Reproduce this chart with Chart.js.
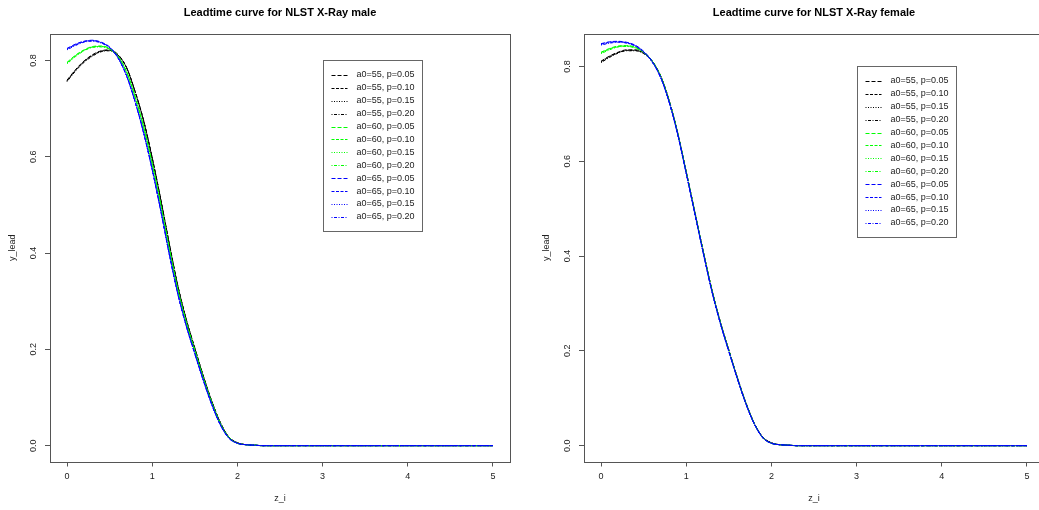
<!DOCTYPE html>
<html>
<head>
<meta charset="utf-8">
<script src="https://cdn.jsdelivr.net/npm/chart.js@4.4.1/dist/chart.umd.min.js"></script>
<style>
  html, body { margin: 0; padding: 0; background: #ffffff; overflow: hidden; }
  #wrap { position: relative; width: 1039px; height: 510px; overflow: hidden; }
  canvas { position: absolute; top: 0; }
  #male { left: 0; }
  #female { left: 534px; }
</style>
</head>
<body>
<div id="wrap">
  <canvas id="male" width="534" height="510"></canvas>
  <canvas id="female" width="534" height="510"></canvas>
</div>
<script>
// Lead time z_i grid shared by all curves
const zGrid = [0, 0.1, 0.2, 0.3, 0.4, 0.5, 0.6, 0.7, 0.8, 0.9, 1.0, 1.1, 1.2, 1.3, 1.4, 1.5, 1.6, 1.7, 1.8, 1.9, 2.0, 2.1, 2.2, 2.3, 5.0];

// Male curves, one array per (a0, p)
const male_a55_p05 = [.759,.781,.799,.812,.820,.822,.812,.785,.735,.675,.598,.512,.420,.333,.262,.203,.145,.092,.048,.018,.006,.002,.001,0,0];
const male_a55_p10 = [.758,.780,.798,.811,.819,.821,.811,.785,.735,.674,.597,.511,.419,.332,.262,.202,.144,.092,.048,.018,.006,.002,.001,0,0];
const male_a55_p15 = [.757,.779,.797,.810,.819,.821,.811,.784,.734,.674,.597,.511,.419,.332,.261,.202,.144,.091,.047,.018,.006,.002,.001,0,0];
const male_a55_p20 = [.756,.778,.796,.809,.818,.820,.810,.784,.734,.673,.596,.510,.418,.331,.261,.201,.143,.091,.047,.017,.006,.002,.001,0,0];
const male_a60_p05 = [.796,.811,.822,.829,.830,.825,.809,.776,.724,.662,.586,.501,.410,.325,.256,.198,.141,.089,.046,.017,.005,.002,.001,0,0];
const male_a60_p10 = [.795,.810,.821,.828,.829,.824,.808,.776,.724,.661,.585,.500,.409,.325,.256,.197,.140,.089,.046,.017,.005,.002,.001,0,0];
const male_a60_p15 = [.794,.809,.821,.828,.829,.824,.808,.775,.723,.661,.585,.500,.409,.324,.255,.197,.140,.088,.045,.017,.005,.002,.001,0,0];
const male_a60_p20 = [.793,.808,.820,.827,.828,.823,.807,.775,.723,.660,.584,.499,.408,.324,.255,.196,.139,.088,.045,.016,.005,.002,.001,0,0];
const male_a65_p05 = [.825,.834,.840,.842,.838,.828,.806,.768,.714,.650,.574,.489,.399,.316,.249,.192,.136,.086,.044,.016,.005,.002,.001,0,0];
const male_a65_p10 = [.824,.833,.839,.841,.837,.827,.805,.768,.714,.649,.573,.488,.398,.316,.249,.191,.136,.085,.043,.016,.005,.002,.001,0,0];
const male_a65_p15 = [.823,.832,.839,.841,.837,.827,.805,.767,.713,.649,.573,.488,.398,.315,.248,.191,.135,.085,.043,.016,.005,.002,.001,0,0];
const male_a65_p20 = [.822,.831,.838,.840,.836,.826,.804,.767,.713,.648,.572,.487,.397,.315,.248,.190,.135,.084,.043,.015,.005,.002,.001,0,0];

// Female curves, one array per (a0, p)
const female_a55_p05 = [.811,.822,.830,.835,.835,.829,.812,.780,.728,.660,.578,.494,.410,.330,.262,.202,.144,.091,.047,.018,.006,.002,.001,0,0];
const female_a55_p10 = [.810,.821,.829,.834,.834,.828,.811,.780,.728,.660,.578,.494,.410,.330,.261,.202,.144,.091,.047,.018,.006,.002,.001,0,0];
const female_a55_p15 = [.809,.820,.829,.834,.834,.828,.811,.779,.727,.659,.577,.493,.409,.329,.261,.201,.143,.090,.047,.017,.006,.002,.001,0,0];
const female_a55_p20 = [.808,.819,.828,.833,.833,.827,.810,.779,.727,.659,.577,.493,.409,.329,.260,.201,.143,.090,.046,.017,.006,.002,.001,0,0];
const female_a60_p05 = [.830,.838,.843,.844,.841,.831,.812,.779,.727,.659,.577,.493,.409,.329,.261,.201,.143,.090,.047,.017,.005,.002,.001,0,0];
const female_a60_p10 = [.829,.837,.842,.843,.840,.830,.811,.779,.727,.659,.577,.493,.409,.329,.260,.201,.143,.090,.046,.017,.005,.002,.001,0,0];
const female_a60_p15 = [.828,.836,.842,.843,.840,.830,.811,.778,.726,.658,.576,.492,.408,.328,.260,.200,.142,.090,.046,.017,.005,.002,.001,0,0];
const female_a60_p20 = [.827,.835,.841,.842,.839,.829,.810,.778,.726,.658,.576,.492,.408,.328,.259,.200,.142,.089,.046,.016,.005,.002,.001,0,0];
const female_a65_p05 = [.848,.852,.853,.851,.845,.832,.811,.777,.725,.657,.575,.491,.407,.327,.259,.200,.142,.089,.046,.017,.005,.002,.001,0,0];
const female_a65_p10 = [.847,.851,.852,.850,.844,.831,.810,.777,.725,.657,.575,.491,.407,.327,.259,.199,.142,.089,.046,.017,.005,.002,.001,0,0];
const female_a65_p15 = [.846,.850,.852,.850,.844,.831,.810,.776,.724,.656,.574,.490,.406,.326,.258,.199,.141,.088,.045,.016,.005,.002,.001,0,0];
const female_a65_p20 = [.845,.849,.851,.849,.843,.830,.809,.776,.724,.656,.574,.490,.406,.326,.258,.198,.141,.088,.045,.016,.005,.002,.001,0,0];

const seriesLabels = [
  'a0=55, p=0.05', 'a0=55, p=0.10', 'a0=55, p=0.15', 'a0=55, p=0.20',
  'a0=60, p=0.05', 'a0=60, p=0.10', 'a0=60, p=0.15', 'a0=60, p=0.20',
  'a0=65, p=0.05', 'a0=65, p=0.10', 'a0=65, p=0.15', 'a0=65, p=0.20'
];
const xTicks = [0, 1, 2, 3, 4, 5];
const xTickLabels = ['0', '1', '2', '3', '4', '5'];
const yTicks = [0, 0.2, 0.4, 0.6, 0.8];
const yTickLabels = ['0.0', '0.2', '0.4', '0.6', '0.8'];
const legendAnchor = [3, 0.8];   // top-left corner of the legend box, in data units

// Styles: colour by a0, line type by p
const a0Colors = ['#000000', '#00ff00', '#0000ff'];
const pDashes = [[4, 2], [3, 1.5], [1, 1.5], [1, 1.5, 3, 1.5]];

const FONT = "'Liberation Sans', Arial, sans-serif";
const TEXT = '#222222';
const FRAME = '#555555';

// R-style frame around the plotting region
const framePlugin = {
  id: 'frame',
  afterDraw(chart) {
    const a = chart.chartArea, ctx = chart.ctx;
    ctx.save();
    ctx.strokeStyle = FRAME;
    ctx.lineWidth = 1;
    ctx.setLineDash([]);
    const l = Math.round(a.left) + 0.5, t = Math.round(a.top) + 0.5;
    const r = Math.round(a.right) + 0.5, b = Math.round(a.bottom) + 0.5;
    ctx.strokeRect(l, t, r - l, b - t);
    ctx.restore();
  }
};

// Legend box placed at a data coordinate inside the plot
const boxLegendPlugin = {
  id: 'boxLegend',
  afterDraw(chart) {
    const ctx = chart.ctx;
    const xs = chart.scales.x, ys = chart.scales.y;
    const px = Math.round(xs.getPixelForValue(legendAnchor[0])) + 0.5;
    const py = Math.round(ys.getPixelForValue(legendAnchor[1])) + 0.5;
    const sets = chart.data.datasets;
    const rowH = 12.9, w = 99, h = sets.length * rowH + 16;
    ctx.save();
    ctx.fillStyle = '#ffffff';
    ctx.fillRect(px, py, w, h);
    ctx.strokeStyle = '#666666';
    ctx.lineWidth = 1;
    ctx.setLineDash([]);
    ctx.strokeRect(px, py, w, Math.round(h));
    ctx.font = '9px ' + FONT;
    ctx.textBaseline = 'middle';
    ctx.textAlign = 'left';
    sets.forEach((ds, i) => {
      const cy = py + 8 + rowH / 2 + i * rowH;
      const ly = Math.round(cy) + 0.5;
      ctx.strokeStyle = ds.borderColor;
      ctx.setLineDash(ds.borderDash);
      ctx.beginPath();
      ctx.moveTo(px + 8, ly);
      ctx.lineTo(px + 24, ly);
      ctx.stroke();
      ctx.setLineDash([]);
      ctx.fillStyle = TEXT;
      ctx.fillText(ds.label, px + 33, cy);
    });
    ctx.restore();
  }
};

function makeChart(id, titleText, series) {
  const datasets = series.map((vals, i) => ({
    label: seriesLabels[i],
    data: zGrid.map((z, k) => ({ x: z, y: vals[k] })),
    borderColor: a0Colors[Math.floor(i / 4)],
    borderDash: pDashes[i % 4],
    borderWidth: 1,
    pointRadius: 0,
    fill: false,
    cubicInterpolationMode: 'monotone',
    order: series.length - i
  }));
  // y range: the first curve's range widened by 4% on each side
  const ymax = Math.max(...series[0]), ymin = Math.min(...series[0]);
  const span = ymax - ymin;
  return new Chart(document.getElementById(id), {
    type: 'line',
    data: { datasets },
    plugins: [framePlugin, boxLegendPlugin],
    options: {
      responsive: false,
      animation: false,
      devicePixelRatio: 1,
      layout: { padding: { left: 0, right: 24, top: 0, bottom: 0 } },
      plugins: {
        legend: { display: false },
        tooltip: { enabled: false },
        title: {
          display: true,
          text: titleText,
          fullSize: false,
          color: '#000000',
          font: { family: FONT, size: 11, weight: 'bold' },
          padding: { top: 6.4, bottom: 14.4 }
        }
      },
      scales: {
        x: {
          type: 'linear',
          min: 0 - 0.04 * 5,
          max: 5 + 0.04 * 5,
          afterBuildTicks: s => { s.ticks = xTicks.map(v => ({ value: v })); },
          afterFit: s => { s.height = 48.5; },
          border: { display: false },
          grid: { drawOnChartArea: false, drawTicks: true, tickLength: 5, color: FRAME },
          ticks: {
            autoSkip: false, maxRotation: 0, minRotation: 0, padding: 5,
            color: TEXT, font: { family: FONT, size: 9 },
            callback: (v) => xTickLabels[xTicks.indexOf(v)]
          },
          title: {
            display: true, text: 'z_i', color: TEXT,
            font: { family: FONT, size: 9 }, padding: { top: 0, bottom: 5.6 }
          }
        },
        y: {
          type: 'linear',
          min: ymin - 0.04 * span,
          max: ymax + 0.04 * span,
          afterBuildTicks: s => { s.ticks = yTicks.map(v => ({ value: v })); },
          afterFit: s => { s.width = 50; },
          border: { display: false },
          grid: { drawOnChartArea: false, drawTicks: true, tickLength: 5, color: FRAME },
          ticks: {
            autoSkip: false, minRotation: 90, maxRotation: 90, crossAlign: 'center', padding: 5.5,
            color: TEXT, font: { family: FONT, size: 9 },
            callback: (v) => yTickLabels[yTicks.indexOf(v)]
          },
          title: {
            display: true, text: 'y_lead', color: TEXT,
            font: { family: FONT, size: 9 }, padding: { top: 7.3, bottom: 0 }
          }
        }
      }
    }
  });
}

makeChart('male', 'Leadtime curve for NLST X-Ray male', [
  male_a55_p05, male_a55_p10, male_a55_p15, male_a55_p20,
  male_a60_p05, male_a60_p10, male_a60_p15, male_a60_p20,
  male_a65_p05, male_a65_p10, male_a65_p15, male_a65_p20
]);
makeChart('female', 'Leadtime curve for NLST X-Ray female', [
  female_a55_p05, female_a55_p10, female_a55_p15, female_a55_p20,
  female_a60_p05, female_a60_p10, female_a60_p15, female_a60_p20,
  female_a65_p05, female_a65_p10, female_a65_p15, female_a65_p20
]);
</script>
</body>
</html>
